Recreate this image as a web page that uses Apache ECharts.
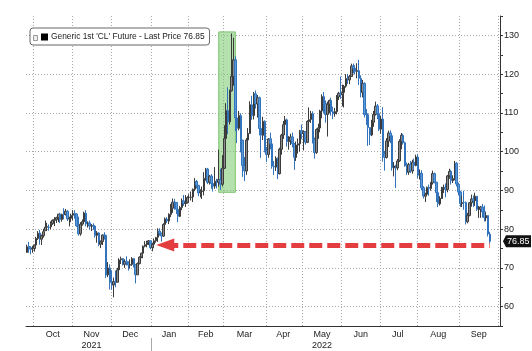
<!DOCTYPE html>
<html>
<head>
<meta charset="utf-8">
<script src="https://cdn.jsdelivr.net/npm/echarts@6/dist/echarts.min.js"></script>
<style>
html, body { margin: 0; padding: 0; background: #fff; }
#chart { width: 532px; height: 351px; }
</style>
</head>
<body>
<div id="chart"></div>
<script>
// trading days, month by month (the last few Sep/Oct 2022 days are empty space on the right)
var months = ['2021-09', '2021-10', '2021-11', '2021-12', '2022-01', '2022-02', '2022-03',
              '2022-04', '2022-05', '2022-06', '2022-07', '2022-08', '2022-09', '2022-10'];
var monthDays = [
    [27, 28, 29, 30],
    [1, 4, 5, 6, 7, 8, 11, 12, 13, 14, 15, 18, 19, 20, 21, 22, 25, 26, 27, 28, 29],
    [1, 2, 3, 4, 5, 8, 9, 10, 11, 12, 15, 16, 17, 18, 19, 22, 23, 24, 26, 29, 30],
    [1, 2, 3, 6, 7, 8, 9, 10, 13, 14, 15, 16, 17, 20, 21, 22, 23, 27, 28, 29, 30, 31],
    [3, 4, 5, 6, 7, 10, 11, 12, 13, 14, 18, 19, 20, 21, 24, 25, 26, 27, 28, 31],
    [1, 2, 3, 4, 7, 8, 9, 10, 11, 14, 15, 16, 17, 18, 22, 23, 24, 25, 28],
    [1, 2, 3, 4, 7, 8, 9, 10, 11, 14, 15, 16, 17, 18, 21, 22, 23, 24, 25, 28, 29, 30, 31],
    [1, 4, 5, 6, 7, 8, 11, 12, 13, 14, 18, 19, 20, 21, 22, 25, 26, 27, 28, 29],
    [2, 3, 4, 5, 6, 9, 10, 11, 12, 13, 16, 17, 18, 19, 20, 23, 24, 25, 26, 27, 31],
    [1, 2, 3, 6, 7, 8, 9, 10, 13, 14, 15, 16, 17, 21, 22, 23, 24, 27, 28, 29, 30],
    [1, 5, 6, 7, 8, 11, 12, 13, 14, 15, 18, 19, 20, 21, 22, 25, 26, 27, 28, 29],
    [1, 2, 3, 4, 5, 8, 9, 10, 11, 12, 15, 16, 17, 18, 19, 22, 23, 24, 25, 26, 29, 30, 31],
    [1, 2, 6, 7, 8, 9, 12, 13, 14, 15, 16, 19, 20, 21, 22, 23, 26, 27, 28, 29, 30],
    [3]
];
// month label under the axis (null = no label)
var monthLabels = [null, 'Oct', 'Nov\n2021', 'Dec', 'Jan', 'Feb', 'Mar', 'Apr',
                   'May\n2022', 'Jun', 'Jul', 'Aug', 'Sep', null];

// [open, close, low, high]
var ohlc = [
    // Sep 21
    [74.0, 75.45, 73.9, 76.0], [75.6, 75.29, 73.9, 76.7], [75.2, 74.83, 73.5, 75.6], [74.9, 75.03, 73.9, 75.7],
    // Oct 21
    [75.0, 75.88, 74.2, 76.0], [75.9, 77.62, 75.4, 78.0], [77.6, 78.93, 77.2, 79.5], [79.0, 77.43, 76.0, 79.8],
    [77.4, 78.30, 75.9, 78.6], [78.3, 79.35, 77.8, 80.1], [79.6, 80.52, 79.6, 82.2], [80.5, 80.64, 79.5, 81.6],
    [80.5, 80.44, 79.6, 81.2], [80.6, 81.31, 80.0, 82.0], [81.4, 82.28, 81.1, 82.5], [82.3, 82.44, 80.8, 83.1],
    [82.4, 82.96, 81.6, 83.2], [82.9, 83.87, 81.8, 83.9], [83.9, 82.50, 81.6, 84.2], [82.5, 83.76, 81.9, 84.0],
    [83.8, 83.76, 82.5, 85.4], [83.8, 84.65, 83.5, 85.2], [84.6, 82.66, 82.1, 84.9], [82.6, 82.81, 80.7, 83.2],
    [82.8, 83.57, 81.8, 84.0],
    // Nov 21
    [83.6, 84.05, 82.3, 84.9], [84.0, 83.91, 82.7, 84.9], [83.9, 80.86, 80.6, 84.1], [80.9, 78.81, 78.3, 83.2],
    [78.8, 81.27, 78.3, 81.8], [81.3, 81.93, 80.9, 82.5], [81.9, 84.15, 81.4, 84.5], [84.1, 81.34, 80.7, 84.9],
    [81.3, 81.59, 80.4, 82.0], [81.6, 80.79, 79.9, 82.2], [80.8, 80.88, 79.5, 81.3], [80.9, 80.76, 79.8, 81.5],
    [80.8, 78.36, 77.8, 80.9], [78.4, 79.01, 76.5, 79.5], [79.0, 76.10, 75.6, 79.2], [76.1, 76.75, 75.1, 77.1],
    [76.8, 78.50, 75.9, 78.6], [78.5, 78.39, 77.3, 79.2], [78.4, 68.15, 67.4, 78.4], [68.2, 69.95, 67.6, 71.5],
    [70.0, 66.18, 64.4, 70.9],
    // Dec 21
    [66.2, 65.57, 64.4, 69.4], [65.6, 66.50, 62.4, 67.5], [66.5, 66.26, 65.0, 69.3], [66.3, 69.49, 66.2, 70.0],
    [69.5, 72.05, 69.0, 72.5], [72.1, 72.36, 71.0, 72.9], [72.4, 70.94, 70.6, 72.5], [70.9, 71.67, 70.0, 72.2],
    [71.7, 71.29, 70.6, 73.0], [71.3, 70.73, 69.3, 71.7], [70.7, 70.87, 69.8, 72.2], [70.9, 72.38, 70.5, 72.8],
    [72.4, 70.86, 70.1, 72.3], [70.9, 68.23, 66.0, 70.9], [68.2, 71.12, 68.2, 71.4], [71.1, 72.76, 70.9, 73.0],
    [72.8, 73.79, 72.5, 73.9], [73.8, 75.57, 72.5, 75.8], [75.6, 75.98, 75.3, 76.9], [76.0, 76.56, 75.3, 77.0],
    [76.6, 76.99, 75.9, 77.2], [77.0, 75.21, 74.8, 77.0],
    // Jan 22
    [75.2, 76.08, 74.3, 76.5], [76.1, 76.99, 75.1, 77.6], [77.0, 77.85, 76.5, 78.0], [77.9, 79.46, 76.7, 80.2],
    [79.5, 78.90, 78.3, 80.2], [78.9, 78.23, 76.8, 79.1], [78.2, 81.22, 78.0, 81.5], [81.2, 82.64, 81.2, 83.0],
    [82.6, 82.12, 81.6, 83.1], [82.1, 83.82, 81.3, 84.1], [83.8, 85.43, 83.1, 86.5], [85.4, 86.96, 84.2, 87.9],
    [87.0, 86.90, 85.0, 87.8], [86.9, 85.14, 83.9, 87.0], [85.1, 83.31, 81.8, 85.7], [83.3, 85.60, 83.1, 86.0],
    [85.6, 87.35, 84.9, 87.9], [87.3, 86.61, 86.0, 88.8], [86.6, 86.82, 85.7, 88.8], [86.8, 88.15, 86.6, 88.5],
    // Feb 22
    [88.2, 88.20, 87.1, 89.0], [88.2, 88.26, 87.4, 89.7], [88.3, 90.27, 87.0, 90.5], [90.3, 92.31, 89.8, 93.2],
    [92.3, 91.32, 90.5, 92.7], [91.3, 89.36, 88.5, 91.4], [89.4, 89.66, 88.2, 90.3], [89.7, 89.88, 87.8, 91.0],
    [89.9, 93.10, 88.7, 94.7], [93.1, 95.46, 92.5, 95.8], [95.5, 92.07, 91.6, 95.8], [92.1, 93.66, 91.5, 94.0],
    [93.7, 91.76, 90.4, 94.2], [91.8, 91.07, 89.7, 92.5], [91.1, 92.35, 90.4, 96.0], [92.4, 92.10, 90.5, 93.0],
    [92.1, 92.81, 91.0, 100.5], [92.8, 91.59, 90.1, 95.6], [91.6, 95.72, 91.0, 99.1],
    // Mar 22
    [95.7, 103.41, 95.5, 106.8], [103.4, 110.60, 103.0, 112.5], [110.6, 107.67, 104.5, 116.6], [107.7, 115.68, 107.0, 116.0],
    [115.7, 119.40, 115.5, 130.5], [119.4, 123.70, 117.0, 129.4], [123.7, 108.70, 105.3, 124.6], [108.7, 106.02, 102.2, 112.6],
    [106.0, 109.33, 105.5, 110.5], [109.3, 103.01, 99.8, 109.9], [103.0, 96.44, 93.5, 103.0], [96.4, 95.04, 92.4, 98.6],
    [95.0, 102.98, 94.0, 103.5], [103.0, 104.70, 100.9, 106.1], [104.7, 112.12, 104.6, 113.0], [112.1, 109.27, 108.2, 114.4],
    [109.3, 114.93, 108.3, 115.4], [114.9, 112.34, 111.1, 115.8], [112.3, 113.90, 108.8, 114.6], [113.9, 105.96, 104.2, 114.2],
    [106.0, 104.24, 98.4, 107.4], [104.2, 107.82, 103.0, 109.0], [107.8, 100.28, 99.8, 108.1],
    // Apr 22
    [100.3, 99.27, 97.3, 101.2], [99.3, 103.28, 98.4, 103.5], [103.3, 101.96, 100.6, 104.9], [102.0, 96.23, 95.6, 102.4],
    [96.2, 96.03, 94.0, 97.6], [96.0, 98.26, 95.0, 98.8], [98.3, 94.29, 92.9, 98.5], [94.3, 100.60, 94.1, 101.0],
    [100.6, 104.25, 99.2, 104.6], [104.3, 106.95, 103.3, 107.9], [107.0, 108.21, 106.0, 109.2], [108.2, 102.56, 101.3, 108.5],
    [102.6, 102.75, 100.5, 104.0], [102.8, 103.79, 101.7, 104.6], [103.8, 102.07, 101.1, 104.9], [102.1, 98.54, 95.3, 102.2],
    [98.5, 101.70, 97.6, 102.6], [101.7, 102.02, 99.5, 103.4], [102.0, 105.36, 100.0, 105.6], [105.4, 104.69, 103.2, 107.0],
    // May 22
    [104.7, 105.17, 100.3, 105.5], [105.2, 102.41, 101.8, 105.3], [102.4, 107.81, 102.2, 108.1], [107.8, 108.26, 104.4, 111.4],
    [108.3, 109.77, 107.4, 110.5], [109.8, 103.09, 102.1, 110.4], [103.1, 99.76, 98.2, 103.6], [99.8, 105.71, 99.4, 106.0],
    [105.7, 106.13, 103.3, 107.2], [106.1, 110.49, 105.0, 110.8], [110.5, 114.20, 108.6, 114.8], [114.2, 112.40, 110.0, 115.4],
    [112.4, 109.59, 107.5, 113.2], [109.6, 112.21, 103.9, 112.9], [112.2, 113.23, 110.0, 113.4], [113.2, 110.29, 109.3, 113.9],
    [110.3, 109.77, 108.4, 111.6], [109.8, 110.33, 109.0, 111.3], [110.3, 114.09, 109.6, 114.6], [114.1, 115.07, 113.3, 115.4],
    [115.1, 114.67, 113.6, 119.4],
    // Jun 22
    [114.7, 115.26, 111.7, 117.3], [115.3, 116.87, 111.4, 117.2], [116.9, 118.87, 116.5, 120.0], [118.9, 118.50, 117.5, 120.0],
    [118.5, 119.41, 117.4, 119.8], [119.4, 122.11, 119.4, 122.7], [122.1, 121.51, 120.2, 122.7], [121.5, 120.67, 119.9, 122.3],
    [120.7, 120.93, 118.9, 122.8], [120.9, 118.93, 117.2, 123.7], [118.9, 115.31, 114.0, 119.7], [115.3, 117.59, 114.0, 118.5],
    [117.6, 109.56, 108.8, 117.9], [109.6, 109.52, 106.9, 111.0], [109.5, 106.19, 101.5, 109.9], [106.2, 104.27, 101.7, 106.3],
    [104.3, 107.62, 104.0, 108.2], [107.6, 109.57, 106.4, 110.5], [109.6, 111.76, 109.3, 112.9], [111.8, 109.78, 108.4, 112.3],
    [109.8, 105.76, 105.3, 110.1],
    // Jul 22
    [105.8, 108.43, 104.6, 109.2], [108.4, 99.50, 97.4, 111.5], [99.5, 98.53, 95.1, 100.2], [98.5, 102.73, 98.2, 103.5],
    [102.7, 104.79, 101.2, 105.4], [104.8, 104.09, 102.2, 105.5], [104.1, 95.84, 95.1, 104.2], [95.8, 96.30, 93.6, 97.3],
    [96.3, 95.78, 90.6, 96.6], [95.8, 97.59, 95.2, 98.1], [97.6, 102.60, 97.3, 103.2], [102.6, 104.22, 100.6, 104.8],
    [104.2, 102.26, 101.8, 104.6], [102.3, 96.35, 96.1, 102.6], [96.4, 94.70, 94.0, 97.2], [94.7, 96.70, 94.0, 97.1],
    [96.7, 94.98, 94.5, 97.6], [95.0, 97.26, 94.3, 97.9], [97.3, 96.42, 95.3, 98.2], [96.4, 98.62, 96.2, 99.2],
    // Aug 22
    [98.6, 93.89, 93.2, 99.4], [93.9, 94.42, 92.8, 95.4], [94.4, 90.66, 90.0, 95.2], [90.7, 88.54, 87.9, 91.1],
    [88.5, 89.01, 87.0, 89.4], [89.0, 90.76, 88.6, 91.0], [90.8, 90.50, 88.6, 91.5], [90.5, 91.93, 89.9, 92.2],
    [91.9, 94.34, 91.5, 95.1], [94.3, 92.09, 91.8, 94.6], [92.1, 89.41, 87.0, 92.2], [89.4, 86.53, 85.7, 89.5],
    [86.5, 87.94, 86.1, 88.5], [87.9, 90.50, 87.8, 90.9], [90.5, 90.77, 89.3, 91.5], [90.8, 90.23, 88.2, 91.8],
    [90.2, 93.74, 89.5, 94.0], [93.7, 94.89, 93.0, 95.6], [94.9, 92.52, 91.5, 95.3], [92.5, 93.06, 91.9, 93.9],
    [93.1, 97.01, 92.6, 97.6], [97.0, 91.64, 91.0, 97.3], [91.6, 89.55, 88.7, 92.0],
    // Sep 22
    [89.6, 86.61, 85.7, 89.9], [86.6, 86.87, 85.7, 88.6], [86.9, 86.88, 85.0, 89.9], [86.9, 81.94, 81.2, 87.1],
    [81.9, 83.54, 81.5, 84.2], [83.5, 86.79, 83.3, 87.0], [86.8, 87.78, 85.8, 88.9], [87.8, 87.31, 85.7, 88.7],
    [87.3, 88.48, 86.0, 89.4], [88.5, 85.10, 84.7, 88.5], [85.1, 85.11, 82.9, 86.0], [85.1, 85.73, 82.9, 86.0],
    [85.7, 84.45, 83.0, 86.5], [84.5, 82.94, 82.0, 86.1], [82.9, 83.49, 82.0, 84.3], [83.5, 78.74, 78.1, 83.6],
    [78.7, 76.85, 76.3, 79.3]
];

var seriesName = "Generic 1st 'CL' Future - Last Price 76.85";
var lastPrice = 76.85;
// green highlight box and red arrow
var boxFrom = ['2022-02-24', 89.5];
var boxTo = ['2022-03-09', 130.9];
var arrowFrom = ['2022-01-12', 75.9];
var arrowTo = ['2022-09-26', 75.9];

var font = 'Liberation Sans, Arial, sans-serif';

// flatten the calendar
var days = [];
var monthStart = {};   // index -> true
var monthMid = {};     // index -> label
for (var m = 0; m < months.length; m++) {
    var first = days.length;
    for (var d = 0; d < monthDays[m].length; d++) {
        var dd = monthDays[m][d];
        days.push(months[m] + '-' + (dd < 10 ? '0' + dd : dd));
    }
    var last = days.length - 1;
    if (first > 0) monthStart[first] = true;
    if (monthLabels[m]) monthMid[Math.floor((first + last) / 2)] = monthLabels[m];
}

var chart = echarts.init(document.getElementById('chart'));

var option = {
    animation: false,
    backgroundColor: '#fff',
    grid: { left: 26, right: 32, top: 16, bottom: 22 },
    legend: {
        data: [{ name: seriesName, icon: 'rect', itemStyle: { color: '#000', borderWidth: 0 } }],
        left: 30, top: 28,
        itemWidth: 7, itemHeight: 7,
        itemGap: 0,
        padding: [5, 5, 4, 11],
        borderColor: '#666', borderWidth: 1, borderRadius: 3,
        backgroundColor: '#fff',
        selectedMode: false,
        textStyle: { fontSize: 8.4, color: '#222', fontFamily: font, padding: [0, 0, 0, -2] }
    },
    xAxis: {
        type: 'category',
        data: days,
        boundaryGap: true,
        axisLine: { lineStyle: { color: '#333' } },
        axisTick: {
            interval: function (i) { return !!monthStart[i]; },
            length: 4,
            lineStyle: { color: '#333' }
        },
        axisLabel: {
            interval: function (i) { return !!monthMid[i]; },
            formatter: function (v, i) { return monthMid[i] || ''; },
            fontSize: 9, color: '#222', fontFamily: font,
            margin: 3, lineHeight: 11
        },
        splitLine: {
            show: true,
            interval: function (i) { return !!monthStart[i]; },
            lineStyle: { color: '#a8a8a8', type: [1, 2] }
        }
    },
    yAxis: {
        type: 'value',
        position: 'right',
        min: 55, max: 135, interval: 5,
        axisLine: { show: true, lineStyle: { color: '#333' } },
        axisTick: { show: true, length: 3, lineStyle: { color: '#333' } },
        axisLabel: {
            formatter: function (v) { return v % 10 === 0 ? String(v) : ''; },
            fontSize: 9, color: '#222', fontFamily: font, margin: 4
        },
        splitLine: {
            show: true,
            lineStyle: { color: ['rgba(0,0,0,0)', '#a8a8a8'], type: [1, 2] }
        }
    },
    series: [{
        type: 'candlestick',
        name: seriesName,
        data: ohlc,
        barWidth: 2,
        itemStyle: {
            color: '#8a8a8a', color0: '#5b9ad8',
            borderColor: '#3b3b3b', borderColor0: '#3273bb',
            borderWidth: 1
        },
        markArea: {
            silent: true,
            itemStyle: { color: 'rgba(120,200,110,0.55)', borderColor: '#7cc46e', borderWidth: 1 },
            data: [[
                { coord: boxFrom },
                { coord: boxTo }
            ]]
        },
        markLine: {
            silent: true,
            animation: false,
            data: [
                [
                    { coord: arrowFrom, symbol: 'triangle', symbolSize: [13, 18] },
                    { coord: arrowTo, symbol: 'none' }
                ]
            ],
            lineStyle: { color: '#e43d40', width: 5, type: [13, 5], cap: 'butt' },
            label: { show: false }
        }
    }],
    graphic: []
};

chart.setOption(option);

// last price tag on the axis, thin year divider under the axis at the start of January
var grid = { left: 26, right: 32 };
var band = (532 - grid.left - grid.right) / days.length;
var janX = Math.round(chart.convertToPixel({ xAxisIndex: 0 }, '2022-01-03') - band / 2) + 0.5;
var tagY = chart.convertToPixel({ yAxisIndex: 0 }, lastPrice);
var axisX = 532 - grid.right;
chart.setOption({
    graphic: [
        { type: 'rect', shape: { x: 33.5, y: 35.5, width: 4, height: 5 }, style: { fill: '#eee', stroke: '#999', lineWidth: 1 }, z: 100 },
        { type: 'line', shape: { x1: janX, y1: 338, x2: janX, y2: 351 }, style: { stroke: '#aaa', lineWidth: 1 } },
        { type: 'polygon', shape: { points: [[axisX + 3, tagY], [axisX + 6, tagY - 6], [axisX + 31, tagY - 6],
                                             [axisX + 31, tagY + 6], [axisX + 6, tagY + 6]] },
          style: { fill: '#111' }, z: 100 },
        { type: 'text', x: axisX + 7, y: tagY, z: 101,
          style: { text: String(lastPrice), fill: '#fff', font: '9px ' + font, verticalAlign: 'middle' } }
    ]
});
</script>
</body>
</html>
